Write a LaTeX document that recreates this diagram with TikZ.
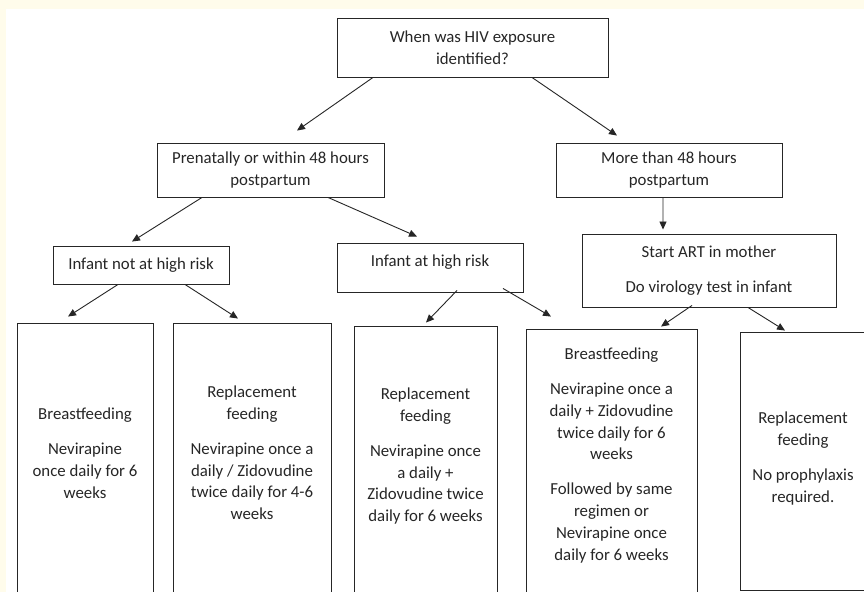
\documentclass[tikz,border=0pt]{standalone}
\usepackage{fontspec}
\setmainfont{Carlito}
\usetikzlibrary{arrows.meta}
\definecolor{cream}{RGB}{255,252,235}
\definecolor{ink}{RGB}{38,38,38}
\begin{document}
\begin{tikzpicture}[x=1bp,y=-1bp,
  font=\fontsize{16.8bp}{21.7bp}\selectfont,
  box/.style={draw=ink, line width=0.9bp, inner sep=0pt, align=center, text=ink},
  txt/.style={inner sep=0pt, align=center, text=ink, anchor=north},
  arr/.style={draw=ink, line width=0.9bp, -{Triangle[length=8bp,width=7bp]}}]
\useasboundingbox (0,0) rectangle (864,592);
\clip (0,0) rectangle (864,592);
\fill[cream] (0,0) rectangle (864,592);
\fill[white] (6,9) rectangle (864,592);

\node[box, minimum width=271bp, minimum height=59bp] (top) at (472.5,47.5) {When was HIV exposure\\identified?};
\node[box, minimum width=227bp, minimum height=54bp] (pren) at (270.5,170) {Prenatally or within 48 hours\\postpartum};
\node[box, minimum width=226bp, minimum height=54bp] (more) at (669,170) {More than 48 hours\\postpartum};
\node[box, minimum width=176bp, minimum height=38bp] (inot) at (141,265) {Infant not at high risk};
\node[box, minimum width=186bp, minimum height=49bp] (ihigh) at (430,267.5) {};
\node[txt] (ihight) at (430,255) {Infant at high risk};
\node[box, minimum width=254bp, minimum height=73bp] (art) at (709,270.5) {Start ART in mother\\[13.3bp]Do virology test in infant};

\node[box, minimum width=136bp, minimum height=277bp] (b1) at (85,461.5) {};
\node[txt] (b1t) at (85,408) {Breastfeeding\\[13.3bp]Nevirapine\\once daily for 6\\weeks};
\node[box, minimum width=158bp, minimum height=277bp] (b2) at (252,461.5) {};
\node[txt] (b2t) at (252,386) {Replacement\\feeding\\[13.3bp]Nevirapine once a\\daily / Zidovudine\\twice daily for 4-6\\weeks};
\node[box, minimum width=143bp, minimum height=274bp] (b3) at (425.5,463) {};
\node[txt] (b3t) at (425.5,388) {Replacement\\feeding\\[13.3bp]Nevirapine once\\a daily +\\Zidovudine twice\\daily for 6 weeks};
\node[box, minimum width=171bp, minimum height=271bp] (b4) at (611.5,464.5) {};
\node[txt] (b4t) at (611.5,348) {Breastfeeding\\[13.3bp]Nevirapine once a\\daily + Zidovudine\\twice daily for 6\\weeks\\[13.3bp]Followed by same\\regimen or\\Nevirapine once\\daily for 6 weeks};
\node[box, minimum width=126bp, minimum height=258bp] (b5) at (803,461) {};
\node[txt] (b5t) at (803,412) {Replacement\\feeding\\[13.3bp]No prophylaxis\\required.};

\draw[arr] ([xshift=-99.5bp]top.south) -- ([xshift=26.5bp,yshift=12bp]pren.north);
\draw[arr] ([xshift=59.5bp]top.south) -- ([xshift=-52bp,yshift=7bp]more.north);
\draw[arr] ([xshift=-68.5bp]pren.south) -- ([xshift=-9bp,yshift=4bp]inot.north);
\draw[arr] ([xshift=57.5bp]pren.south) -- ([xshift=-13bp,yshift=6bp]ihigh.north);
\draw[arr] ([xshift=-6bp]more.south) -- ([xshift=-46bp,yshift=4bp]art.north);
\draw[arr] ([xshift=-23bp]inot.south) -- ([xshift=-17bp,yshift=6bp]b1.north);
\draw[arr] ([xshift=44bp]inot.south) -- ([xshift=-14bp,yshift=4bp]b2.north);
\draw[arr] ([xshift=27bp,yshift=2bp]ihigh.south) -- ([xshift=0.5bp,yshift=3bp]b3.north);
\draw[arr] ([xshift=73bp,yshift=4bp]ihigh.south) -- ([xshift=-60.5bp,yshift=12bp]b4.north);
\draw[arr] ([xshift=-17bp,yshift=2bp]art.south) -- ([xshift=49.5bp,yshift=2bp]b4.north);
\draw[arr] ([xshift=39bp]art.south) -- ([xshift=-18bp,yshift=1bp]b5.north);
\end{tikzpicture}
\end{document}
